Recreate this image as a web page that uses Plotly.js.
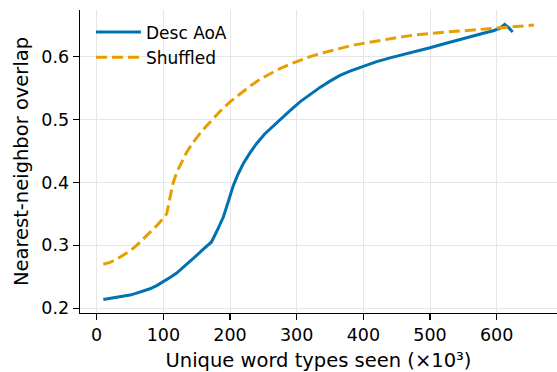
<!DOCTYPE html>
<html>
<head>
<meta charset="utf-8">
<script src="https://cdn.plot.ly/plotly-3.0.1.min.js"></script>
<style>html,body{margin:0;padding:0;background:#fff;}#chart{width:557px;height:372px;}</style>
</head>
<body>
<div id="chart"></div>
<script>
// Desc AoA series
const descX = [10, 20, 30, 40, 50, 60, 70, 80, 90, 100, 110, 120, 130, 140, 150, 160, 172, 180, 190, 197, 205, 212, 220, 230, 240, 252, 265, 277, 290, 305, 320, 335, 350, 365, 380, 400, 420, 440, 460, 480, 500, 520, 540, 560, 580, 595, 605, 612, 618, 624];
const descY = [0.214, 0.2155, 0.217, 0.219, 0.221, 0.224, 0.227, 0.231, 0.236, 0.242, 0.249, 0.256, 0.265, 0.275, 0.284, 0.294, 0.305, 0.322, 0.345, 0.368, 0.395, 0.413, 0.430, 0.447, 0.462, 0.477, 0.490, 0.502, 0.514, 0.528, 0.540, 0.551, 0.561, 0.570, 0.577, 0.585, 0.592, 0.598, 0.603, 0.608, 0.614, 0.620, 0.626, 0.632, 0.637, 0.641, 0.645, 0.651, 0.646, 0.639];
// Shuffled series
const shufX = [10, 20, 30, 40, 50, 60, 70, 80, 90, 100, 105, 110, 115, 120, 127, 135, 145, 155, 165, 175, 185, 200, 215, 230, 245, 260, 275, 290, 305, 320, 340, 360, 380, 400, 425, 450, 475, 500, 525, 550, 575, 600, 625, 656];
const shufY = [0.270, 0.273, 0.278, 0.284, 0.291, 0.300, 0.310, 0.320, 0.331, 0.343, 0.350, 0.376, 0.400, 0.416, 0.432, 0.448, 0.464, 0.478, 0.490, 0.502, 0.513, 0.528, 0.541, 0.553, 0.564, 0.573, 0.581, 0.588, 0.594, 0.600, 0.606, 0.612, 0.617, 0.621, 0.626, 0.630, 0.634, 0.637, 0.639, 0.641, 0.643, 0.645, 0.647, 0.650];
const seriesNames = ['Desc AoA', 'Shuffled'];
const xTicks = [0, 100, 200, 300, 400, 500, 600];
const yTicks = [0.2, 0.3, 0.4, 0.5, 0.6];

const font = 'DejaVu Sans, sans-serif';
const traces = [
  {x: descX, y: descY, name: seriesNames[0], mode: 'lines', line: {color: '#0072B2', width: 3}},
  {x: shufX, y: shufY, name: seriesNames[1], mode: 'lines', line: {color: '#E69F00', width: 3, dash: '11px,5px'}}
];
const layout = {
  width: 557, height: 372,
  margin: {l: 80, r: 0, t: 10, b: 59},
  paper_bgcolor: '#fff', plot_bgcolor: '#fff',
  font: {family: font, size: 17, color: '#000'},
  showlegend: true,
  legend: {x: 0.023, y: 0.985, xanchor: 'left', yanchor: 'top', bgcolor: 'rgba(255,255,255,0)', itemwidth: 45, font: {size: 17}},
  xaxis: {
    range: [-25, 690.5], tickvals: xTicks, ticktext: xTicks.map(String),
    showgrid: true, gridcolor: '#e6e6e6', gridwidth: 1, zeroline: false,
    showline: true, linecolor: '#000', linewidth: 1.3,
    ticks: 'outside', ticklen: 6, tickwidth: 1.2, tickcolor: '#000',
    tickfont: {size: 17.5},
    title: {text: 'Unique word types seen (×10³)', font: {size: 19.5}, standoff: 9}
  },
  yaxis: {
    range: [0.1925, 0.674], tickvals: yTicks, ticktext: yTicks.map(v => v.toFixed(1)),
    showgrid: true, gridcolor: '#e6e6e6', gridwidth: 1, zeroline: false,
    showline: true, linecolor: '#000', linewidth: 1.3,
    ticks: 'outside', ticklen: 6, tickwidth: 1.2, tickcolor: '#000',
    tickfont: {size: 17.5},
    title: {text: 'Nearest-neighbor overlap', font: {size: 19.5}, standoff: 7}
  }
};
Plotly.newPlot('chart', traces, layout, {displayModeBar: false, staticPlot: true});
</script>
</body>
</html>
